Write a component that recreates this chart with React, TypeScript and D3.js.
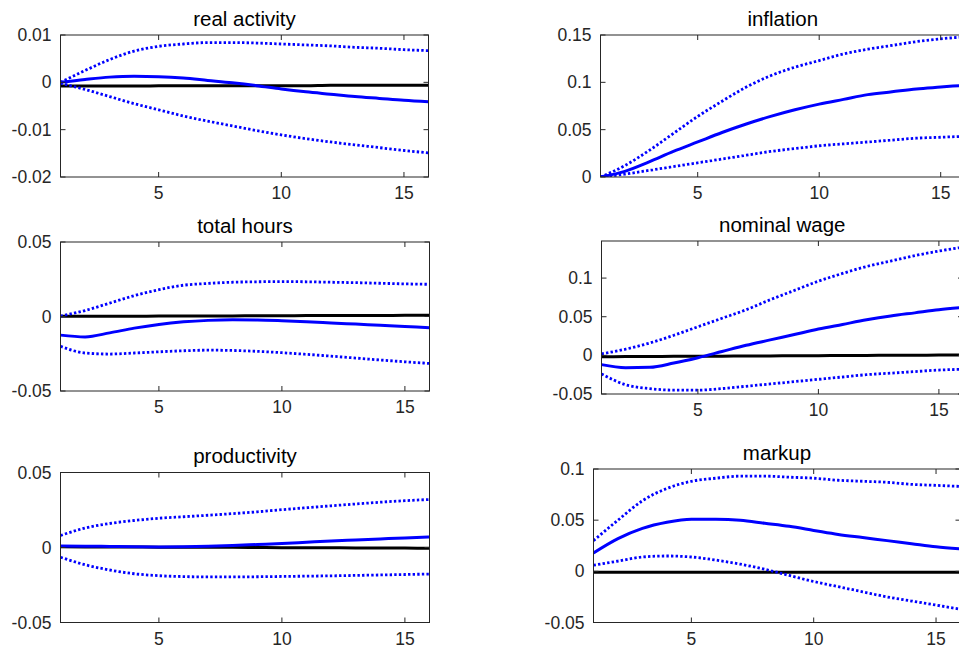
import * as d3 from "d3";

// horizon (quarters)
const periods = [1, 2, 3, 4, 5, 6, 7, 8, 9, 10, 11, 12, 13, 14, 15, 16];

// real activity
const realActivityMid = [0.0, 0.0006, 0.0011, 0.0013, 0.0012, 0.0009, 0.0004, -0.0001, -0.0007, -0.0014, -0.002, -0.0025, -0.003, -0.0034, -0.0038, -0.0041];
const realActivityUp = [0.0, 0.0025, 0.0048, 0.0066, 0.0076, 0.0081, 0.0084, 0.0084, 0.0083, 0.0081, 0.0079, 0.0077, 0.0074, 0.0072, 0.0069, 0.0067];
const realActivityLo = [-0.0002, -0.0015, -0.003, -0.0045, -0.0058, -0.0071, -0.0082, -0.0092, -0.0102, -0.0111, -0.0119, -0.0126, -0.0132, -0.0138, -0.0144, -0.0149];
const realActivityBase = [-0.0008, -0.0008, -0.0008, -0.0008, -0.0007, -0.0007, -0.0007, -0.0007, -0.0007, -0.0007, -0.0007, -0.0006, -0.0006, -0.0006, -0.0006, -0.0006];

// inflation
const inflationMid = [0.0, 0.006, 0.016, 0.027, 0.037, 0.047, 0.056, 0.064, 0.071, 0.077, 0.082, 0.087, 0.09, 0.093, 0.095, 0.097];
const inflationUp = [0.0, 0.012, 0.028, 0.046, 0.064, 0.08, 0.095, 0.107, 0.116, 0.123, 0.13, 0.135, 0.139, 0.143, 0.146, 0.148];
const inflationLo = [0.0, 0.003, 0.007, 0.011, 0.015, 0.019, 0.023, 0.027, 0.03, 0.033, 0.035, 0.037, 0.039, 0.041, 0.042, 0.043];

// total hours
const hoursMid = [-0.0125, -0.0137, -0.011, -0.0078, -0.0053, -0.0036, -0.0026, -0.0022, -0.0023, -0.0028, -0.0035, -0.0043, -0.0051, -0.0059, -0.0067, -0.0075];
const hoursUp = [0.0003, 0.004, 0.009, 0.014, 0.018, 0.021, 0.0222, 0.023, 0.0233, 0.0234, 0.0233, 0.023, 0.0227, 0.0223, 0.0219, 0.0216];
const hoursLo = [-0.02, -0.0245, -0.0252, -0.0245, -0.0237, -0.023, -0.0226, -0.0228, -0.0234, -0.0243, -0.0254, -0.0266, -0.0279, -0.0292, -0.0304, -0.0315];
const hoursBase = [0.0001, 0.0001, 0.0002, 0.0002, 0.0003, 0.0003, 0.0004, 0.0004, 0.0005, 0.0005, 0.0006, 0.0006, 0.0007, 0.0007, 0.0008, 0.0008];

// nominal wage
const wageMid = [-0.012, -0.016, -0.0155, -0.01, -0.003, 0.005, 0.013, 0.02, 0.027, 0.034, 0.04, 0.046, 0.051, 0.055, 0.059, 0.062];
const wageUp = [0.002, 0.008, 0.016, 0.026, 0.037, 0.048, 0.059, 0.072, 0.084, 0.096, 0.106, 0.115, 0.122, 0.129, 0.135, 0.14];
const wageLo = [-0.024, -0.038, -0.043, -0.045, -0.045, -0.043, -0.04, -0.037, -0.034, -0.031, -0.028, -0.025, -0.023, -0.021, -0.019, -0.018];
const wageBase = [-0.0017, -0.0016, -0.0014, -0.0013, -0.0011, -0.001, -0.0008, -0.0007, -0.0005, -0.0004, -0.0002, -0.0001, 0.0001, 0.0002, 0.0004, 0.0005];

// productivity
const prodMid = [0.001, 0.0009, 0.0007, 0.0005, 0.0004, 0.0005, 0.0008, 0.0013, 0.002, 0.0027, 0.0035, 0.0043, 0.005, 0.0057, 0.0064, 0.007];
const prodUp = [0.008, 0.013, 0.016, 0.018, 0.0195, 0.0205, 0.0215, 0.0226, 0.0238, 0.0252, 0.0265, 0.0278, 0.029, 0.0302, 0.0312, 0.032];
const prodLo = [-0.0065, -0.0115, -0.015, -0.0175, -0.0188, -0.0194, -0.0196, -0.0196, -0.0195, -0.0193, -0.0191, -0.0189, -0.0186, -0.0183, -0.018, -0.0177];
const prodBase = [0.0005, 0.0004, 0.0004, 0.0003, 0.0002, 0.0002, 0.0001, 0.0001, 0.0, -0.0001, -0.0001, -0.0002, -0.0003, -0.0003, -0.0004, -0.0005];

// markup
const markupMid = [0.018, 0.032, 0.042, 0.048, 0.051, 0.051, 0.05, 0.047, 0.044, 0.04, 0.036, 0.033, 0.03, 0.027, 0.024, 0.022];
const markupUp = [0.03, 0.05, 0.069, 0.081, 0.088, 0.091, 0.093, 0.093, 0.092, 0.091, 0.089, 0.088, 0.087, 0.085, 0.084, 0.083];
const markupLo = [0.006, 0.01, 0.014, 0.015, 0.014, 0.011, 0.007, 0.002, -0.004, -0.01, -0.015, -0.02, -0.025, -0.029, -0.033, -0.037];
const markupBase = [-0.001, -0.001, -0.001, -0.001, -0.001, -0.001, -0.001, -0.001, -0.001, -0.001, -0.001, -0.001, -0.001, -0.001, -0.001, -0.001];

const xTicks = [5, 10, 15];

const panels = [
  { title: "real activity", mid: realActivityMid, up: realActivityUp, lo: realActivityLo, base: realActivityBase, yDomain: [-0.02, 0.01], yTicks: [-0.02, -0.01, 0, 0.01] },
  { title: "inflation", mid: inflationMid, up: inflationUp, lo: inflationLo, base: null, yDomain: [0, 0.15], yTicks: [0, 0.05, 0.1, 0.15] },
  { title: "total hours", mid: hoursMid, up: hoursUp, lo: hoursLo, base: hoursBase, yDomain: [-0.05, 0.05], yTicks: [-0.05, 0, 0.05] },
  { title: "nominal wage", mid: wageMid, up: wageUp, lo: wageLo, base: wageBase, yDomain: [-0.05, 0.148], yTicks: [-0.05, 0, 0.05, 0.1] },
  { title: "productivity", mid: prodMid, up: prodUp, lo: prodLo, base: prodBase, yDomain: [-0.05, 0.05], yTicks: [-0.05, 0, 0.05] },
  { title: "markup", mid: markupMid, up: markupUp, lo: markupLo, base: markupBase, yDomain: [-0.05, 0.1], yTicks: [-0.05, 0, 0.05, 0.1] },
];

// axes boxes (pixels); right column runs past the page edge
const frames = [
  { left: 60.5, right: 428.5, top: 35, bottom: 177 },
  { left: 600.5, right: 965, top: 35, bottom: 177 },
  { left: 60.5, right: 429.5, top: 242, bottom: 391 },
  { left: 601.5, right: 963, top: 241, bottom: 394 },
  { left: 60.5, right: 429.5, top: 472.5, bottom: 622.5 },
  { left: 593.5, right: 960.5, top: 469, bottom: 622.5 },
];

const W = 959;
const H = 654;
const FONT = "'Liberation Sans', Arial, Helvetica, sans-serif";
const AXIS = "#262626";
const TICK = 5;

const fmt = (v: number) => (v === 0 ? "0" : String(+v.toFixed(3)));

function Panel({ p, f, idx }: { p: any; f: any; idx: number }) {
  const x = d3.scaleLinear().domain([1, 16]).range([f.left, f.right]);
  const y = d3.scaleLinear().domain(p.yDomain).range([f.bottom, f.top]);
  const line = (vals: number[]) =>
    d3
      .line<number>()
      .curve(d3.curveMonotoneX)
      .x((_, i) => x(periods[i]))
      .y((d) => y(d))(vals) || "";
  const clipId = `clip-${idx}`;
  const cx = (f.left + f.right) / 2;

  return (
    <g>
      <defs>
        <clipPath id={clipId}>
          <rect x={f.left} y={f.top} width={f.right - f.left} height={f.bottom - f.top} />
        </clipPath>
      </defs>
      <g clipPath={`url(#${clipId})`}>
        {p.base && (
          <path d={line(p.base)} fill="none" stroke="#000" strokeWidth={3} />
        )}
        <path d={line(p.up)} fill="none" stroke="#0000ff" strokeWidth={2.8} strokeDasharray="2.4,2.2" />
        <path d={line(p.lo)} fill="none" stroke="#0000ff" strokeWidth={2.8} strokeDasharray="2.4,2.2" />
        <path d={line(p.mid)} fill="none" stroke="#0000ff" strokeWidth={3} strokeLinejoin="round" />
      </g>
      <rect
        x={f.left}
        y={f.top}
        width={f.right - f.left}
        height={f.bottom - f.top}
        fill="none"
        stroke={AXIS}
        strokeWidth={1}
      />
      {xTicks.map((t) => (
        <g key={`x${t}`}>
          <line x1={x(t)} x2={x(t)} y1={f.bottom} y2={f.bottom - TICK} stroke={AXIS} />
          <line x1={x(t)} x2={x(t)} y1={f.top} y2={f.top + TICK} stroke={AXIS} />
          <text
            x={x(t)}
            y={f.bottom + 22}
            textAnchor="middle"
            fontSize={17.5}
            fontFamily={FONT}
            fill={AXIS}
          >
            {t}
          </text>
        </g>
      ))}
      {p.yTicks.map((t: number) => (
        <g key={`y${t}`}>
          <line x1={f.left} x2={f.left + TICK} y1={y(t)} y2={y(t)} stroke={AXIS} />
          <line x1={f.right} x2={f.right - TICK} y1={y(t)} y2={y(t)} stroke={AXIS} />
          <text
            x={f.left - 9}
            y={y(t)}
            dy="0.35em"
            textAnchor="end"
            fontSize={17.5}
            fontFamily={FONT}
            fill={AXIS}
          >
            {fmt(t)}
          </text>
        </g>
      ))}
      <text
        x={cx}
        y={f.top - 9.5}
        textAnchor="middle"
        fontSize={20.5}
        fontFamily={FONT}
        fill="#000"
      >
        {p.title}
      </text>
    </g>
  );
}

export default function App() {
  return (
    <svg
      width={W}
      height={H}
      style={{ position: "absolute", left: 0, top: 0, background: "#fff" }}
    >
      <rect width={W} height={H} fill="#fff" />
      {panels.map((p, i) => (
        <Panel key={p.title} p={p} f={frames[i]} idx={i} />
      ))}
    </svg>
  );
}
